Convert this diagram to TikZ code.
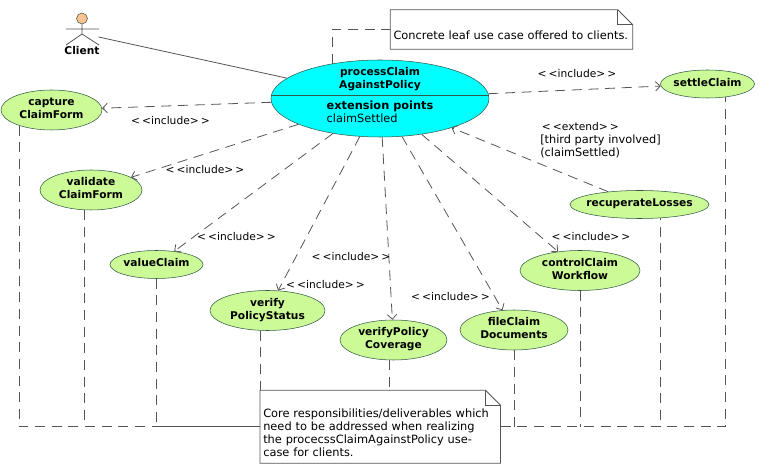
\documentclass[tikz,border=0pt]{standalone}
\usepackage{fontspec}
\setmainfont{DejaVu Sans}
\usetikzlibrary{calc,shapes.geometric,arrows.meta}
\definecolor{UcGreen}{RGB}{ 204, 250, 150}
\definecolor{UcCyan}{RGB}{ 0, 255, 255}
\definecolor{UcEdge}{RGB}{ 50, 90, 70}
\definecolor{UcLine}{RGB}{ 85, 85, 85}
\definecolor{UcHead}{RGB}{ 250, 195, 145}
\newcommand{\stereo}[1]{{\fontsize{8}{9.75}\selectfont<\kern1.6pt<#1>\kern1.6pt>}}
\newcommand{\foldnote}[1]{%
  \draw[noteedge] (#1.north west) -- ($(#1.north east)+(-15,0)$) -- ($(#1.north east)+(0,15)$)
    -- (#1.south east) -- (#1.south west) -- cycle;
  \draw[noteedge] ($(#1.north east)+(-15,0)$) -- ($(#1.north east)+(-15,15)$) -- ($(#1.north east)+(0,15)$);
}
\begin{document}
\begin{tikzpicture}[x=.75pt,y=-.75pt,
    font=\fontsize{8.5}{9.75}\selectfont,
    ucsize/.style 2 args={minimum width=#1*.75pt, minimum height=#2*.75pt},
    usecase/.style={draw=UcEdge, fill=UcGreen, ellipse, inner xsep=-8pt, inner ysep=-2pt, text depth=3pt, align=center, font=\fontsize{8}{9.75}\selectfont\bfseries},
    notebox/.style={inner xsep=2.2pt, inner ysep=0pt, align=left, font=\fontsize{8.55}{9.75}\selectfont},
    noteedge/.style={draw=UcLine, line width=.6pt},
    notelink/.style={UcLine, line width=.6pt, dash pattern=on 7.5pt off 5pt},
    include/.style={UcLine, line width=.6pt, dash pattern=on 7.5pt off 5pt, -{Straight Barb[length=3.5pt,width=7pt]}},
    stereotxt/.style={inner sep=0pt}]
  \useasboundingbox (0,0) rectangle (774,473);

  % main use case
  \node[usecase, ucsize={218}{77}, fill=UcCyan] (main) at (380,98.5) {};
  \node[inner sep=0pt, align=center, font=\fontsize{8}{9.75}\selectfont\bfseries] (mainname) at (380,79) {processClaim\\AgainstPolicy};
  \node[inner sep=0pt, align=left] (mainext) at (380,111.5) {\textbf{extension points}\\claimSettled};
  \draw[UcEdge, line width=.6pt] (main.west |- 0,95) -- (main.east |- 0,95);

  % included use cases
  \node[usecase, ucsize={101}{40}] (capture) at (51.5,110) {capture\\ClaimForm};
  \node[usecase, ucsize={102}{40}] (validate) at (91,190) {validate\\ClaimForm};
  \node[usecase, ucsize={93}{28}] (value) at (156.5,264.5) {valueClaim};
  \node[usecase, ucsize={115}{40}] (status) at (267.5,310.5) {verify\\PolicyStatus};
  \node[usecase, ucsize={107}{40}] (coverage) at (393.5,340) {verifyPolicy\\Coverage};
  \node[usecase, ucsize={108}{40}] (documents) at (514,330) {fileClaim\\Documents};
  \node[usecase, ucsize={120}{40}] (workflow) at (580,270.5) {controlClaim\\Workflow};
  \node[usecase, ucsize={139}{28}] (recuperate) at (639.5,204.5) {recuperateLosses};
  \node[usecase, ucsize={94}{28}] (settle) at (707.5,84) {settleClaim};

  % notes
  \node[notebox, ucsize={242}{39}, text width=177pt] (leafnote) at (511.5,29.5) {\mbox{}\\[6pt]Concrete leaf use case offered to clients.};
  \node[notebox, ucsize={240}{72.5}, text width=175.5pt] (corenote) at (380.25,426.75) {\mbox{}\\[6pt]Core responsibilities/deliverables which\\need to be addressed when realizing\\the procecssClaimAgainstPolicy use-\\case for clients.};
  \foldnote{leafnote}
  \foldnote{corenote}

  % actor
  \node[circle, draw=UcEdge, fill=UcHead, inner sep=0pt, minimum size=8.2pt] (head) at (82,18.5) {};
  \draw[UcLine, line width=.6pt] (head.south) -- (82,34) -- (66,45) (82,34) -- (99,45) (66,29) -- (99,29);
  \node[inner sep=0pt, font=\fontsize{8}{9.75}\selectfont\bfseries] (client) at (82,51) {Client};
  \coordinate (hand) at (98.5,37);
  \draw[UcLine, line width=.6pt] (hand) -- (main);

  % dependencies
  \draw[include] (main) -- (capture);
  \draw[include] (main) -- (validate);
  \draw[include] (main) -- (value);
  \draw[include] (main) -- (status);
  \draw[include] (main) -- (coverage);
  \draw[include] (main) -- (documents);
  \draw[include] (main) -- (workflow);
  \draw[include] (main) -- (settle);
  \draw[include] (recuperate) -- (main);

  % note links
  \draw[notelink] (main.144) |- (leafnote);
  \draw[notelink] (capture.206.5) |- (corenote);
  \draw[notelink] (validate.253) -- (validate.253 |- corenote);
  \draw[notelink] (value.south) |- (corenote);
  \draw[notelink] (status.251) -- (status.251 |- corenote.north);
  \draw[notelink] (coverage.259) -- (coverage.259 |- corenote.north);
  \draw[notelink] (documents.south) -- (documents.south |- corenote);
  \draw[notelink] (workflow.south) -- (workflow.south |- corenote);
  \draw[notelink] (corenote) -| (recuperate.327.7);
  \draw[notelink] (corenote) -| (settle.324.4);

  % labels
  \node[stereotxt] (inc1) at (170.5,120.5) {\stereo{include}};
  \node[stereotxt] (inc2) at (205,170) {\stereo{include}};
  \node[stereotxt] (inc3) at (236.5,236.5) {\stereo{include}};
  \node[stereotxt] (inc4) at (351,257) {\stereo{include}};
  \node[stereotxt] (inc5) at (325.5,285) {\stereo{include}};
  \node[stereotxt] (inc6) at (450.5,297) {\stereo{include}};
  \node[stereotxt] (inc7) at (591,237) {\stereo{include}};
  \node[stereotxt] (inc8) at (577,74) {\stereo{include}};
  \node[stereotxt, align=left, anchor=west] (ext) at (540,140.5) {\hspace{1.2pt}\stereo{extend}\\{}[third party involved]\\(claimSettled)};
\end{tikzpicture}
\end{document}
